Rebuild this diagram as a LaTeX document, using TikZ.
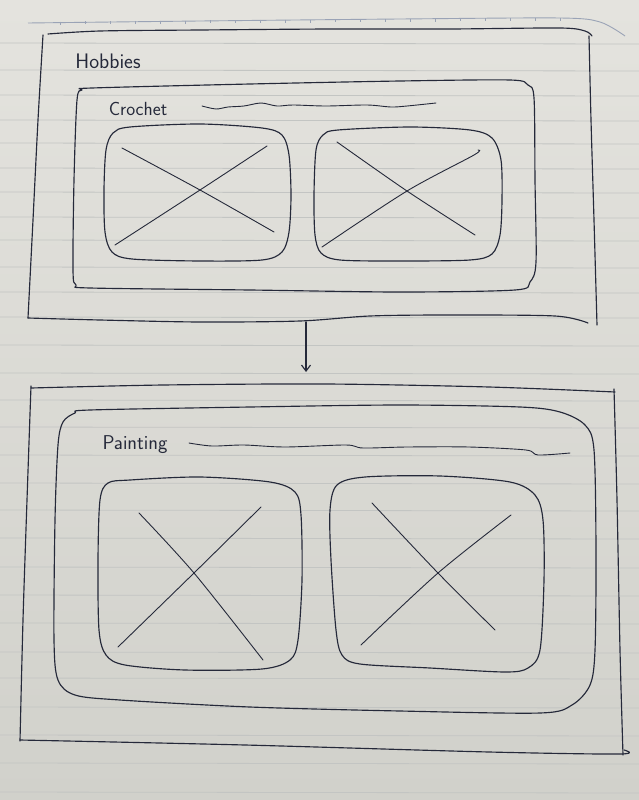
\documentclass[tikz,border=0pt]{standalone}
\usetikzlibrary{arrows.meta}
\begin{document}
\begin{tikzpicture}[x=1pt,y=-1pt,
  ink/.style={draw=inkblue,line width=1.15pt,line cap=round,line join=round},
  thinink/.style={draw=inkblue,line width=0.9pt,line cap=round},
  rule/.style={draw=rulegray,line width=0.8pt},
  hand/.style={font=\sffamily\fontsize{19}{21}\selectfont,text=inkblue,inner sep=0pt},
  flow/.style={ink,-{Straight Barb[length=6pt,width=9pt]}}]
\definecolor{inkblue}{HTML}{25293A}
\definecolor{rulegray}{HTML}{C3C5C3}
\definecolor{papertop}{HTML}{E4E3DE}
\definecolor{paperbot}{HTML}{D1D1CB}
\definecolor{header}{HTML}{9AA3B6}

% sheet of ruled paper
\useasboundingbox (0,0) rectangle (639,800);
\shade[top color=papertop,bottom color=paperbot] (0,0) rectangle (639,800);
\foreach \ry in {43,70,95,120,143,168,192,217,240,267,292,317,345,373,400,427,455,483,510,538,567,595,623,652,678,707,735,763,792}
  \draw[rule] (0,\ry) -- (639,\ry+1);
% header line with ticks
\draw[header,line width=0.9pt] plot[smooth] coordinates {(28,23) (200,21) (400,19) (560,18) (600,22) (625,36)};
\foreach \tx in {60,85,110,135,160,185,210,235,260,285,310,335,360,385,410,435,460,485,510,535,560}
  \draw[header,line width=0.6pt] (\tx,{22-\tx*0.008}) -- ++(0,3);

% ---------- Hobbies frame ----------
\draw[ink] plot[smooth] coordinates {(48,34) (100,31) (200,30) (330,29) (450,29) (560,28) (585,31) (592,36)};
\draw[ink] plot[smooth] coordinates {(589,36) (591,120) (594,220) (597,325)};
\draw[ink] plot[smooth] coordinates {(43,35) (38,120) (33,220) (28,318)};
\draw[ink] plot[smooth] coordinates {(28,318) (100,320) (200,322) (300,321) (370,316) (450,315) (555,316) (588,323)};
\node[hand,font=\sffamily\fontsize{21}{23}\selectfont] (hobbies) at (108,61) {Hobbies};

% Crochet panel
\draw[ink] plot[smooth cycle,tension=0.5] coordinates {(92,88) (250,84) (400,81) (510,80) (528,85) (534,98) (535,180) (536,262) (530,282) (515,290) (400,292) (250,290) (90,288) (76,285) (73,270) (74,180) (77,100) (82,90)};
\node[hand] (crochet) at (138,109) {Crochet};
\draw[thinink] plot[smooth] coordinates {(202,106) (216,109) (228,107) (244,106) (261,103) (277,106) (293,105) (326,106) (367,105) (391,107) (407,106) (436,103)};

% crochet images
\draw[ink] plot[smooth cycle,tension=0.5] coordinates {(130,127) (200,124) (262,128) (282,135) (289,155) (291,195) (289,232) (282,252) (262,260) (200,261) (132,259) (112,252) (105,232) (104,190) (106,150) (113,133)};
\draw[thinink] plot[smooth] coordinates {(122,148) (200,190) (274,232)};
\draw[thinink] plot[smooth] coordinates {(115,245) (200,190) (267,146)};
\draw[ink] plot[smooth cycle,tension=0.5] coordinates {(338,130) (410,127) (470,130) (492,138) (501,160) (502,200) (500,235) (492,254) (470,260) (400,261) (340,260) (321,253) (315,235) (314,195) (316,150) (323,135)};
\draw[thinink] plot[smooth] coordinates {(337,142) (407,191) (475,235)};
\draw[thinink] plot[smooth] coordinates {(322,247) (407,191) (474,155) (478,150)};

% ---------- connector ----------
\coordinate (hobbiesFoot) at (306,322);
\coordinate (paintingHead) at (306,372);
\draw[flow] (hobbiesFoot) -- (paintingHead);

% ---------- Painting frame ----------
\draw[ink] plot[smooth] coordinates {(31,388) (163,385) (326,384) (489,387) (615,392)};
\draw[ink] plot[smooth] coordinates {(614,389) (617,500) (620,650) (623,755)};
\draw[ink] plot[smooth] coordinates {(31,386) (27,500) (23,620) (20,741)};
\draw[ink] plot[smooth] coordinates {(20,740) (245,745) (489,752) (620,754) (624,750)};

% Painting panel
\draw[ink] plot[smooth cycle,tension=0.5] coordinates {(90,410) (250,407) (400,405) (520,407) (560,412) (585,425) (594,450) (596,550) (595,650) (590,685) (572,705) (540,713) (400,711) (250,707) (120,700) (75,695) (58,680) (54,640) (55,520) (58,445) (63,422) (75,413)};
\node[hand,font=\sffamily\fontsize{20}{22}\selectfont] (painting) at (135,445) {Painting};
\draw[thinink] plot[smooth] coordinates {(189,443) (212,446) (244,445) (285,447) (346,445) (363,448) (407,447) (469,447) (526,450) (538,455) (570,453)};

% painting images
\draw[ink] plot[smooth cycle,tension=0.5] coordinates {(130,480) (200,477) (270,482) (295,492) (301,515) (302,580) (298,640) (290,660) (262,669) (185,670) (125,665) (106,655) (99,630) (98,560) (100,500) (108,483)};
\draw[thinink] plot[smooth] coordinates {(139,513) (194,573) (263,660)};
\draw[thinink] plot[smooth] coordinates {(118,647) (194,573) (261,507)};
\draw[ink] plot[smooth cycle,tension=0.5] coordinates {(365,477) (440,476) (510,482) (535,495) (543,520) (544,580) (540,650) (528,668) (505,672) (430,668) (360,664) (342,655) (336,630) (331,560) (330,510) (337,485)};
\draw[thinink] plot[smooth] coordinates {(372,503) (438,573) (495,630)};
\draw[thinink] plot[smooth] coordinates {(361,645) (438,573) (511,515)};
\end{tikzpicture}
\end{document}
